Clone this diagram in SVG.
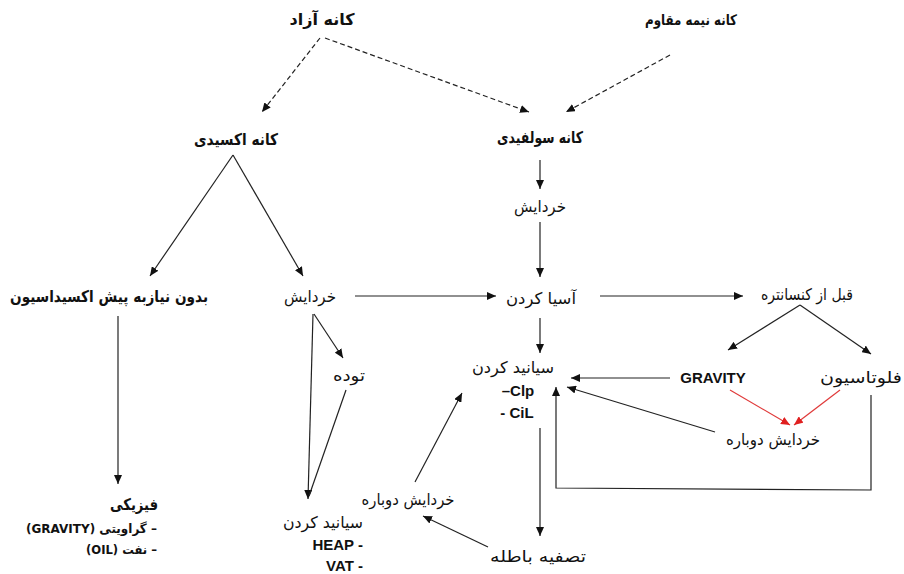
<svg xmlns="http://www.w3.org/2000/svg" width="904" height="574" viewBox="0 0 904 574">
<style>
text{font-family:"DejaVu Sans","Noto Sans",sans-serif;font-size:16px;fill:#111}
.fa{direction:rtl}
.b{font-weight:bold}
.en{font-family:"Liberation Sans",Arial,sans-serif;font-weight:bold;font-size:15px;direction:ltr}
.c line,.c polyline,.c path{stroke:#222;stroke-width:1.2;fill:none;marker-end:url(#ah)}
.c .d{stroke-dasharray:5 3}
.c .r{stroke:#e03a3a;marker-end:url(#ar)}
.c .n{marker-end:none}
</style>
<defs>
<marker id="ah" markerUnits="userSpaceOnUse" markerWidth="10" markerHeight="8" refX="9" refY="4" orient="auto"><path d="M0,0 L9,4 L0,8 Z" fill="#111"/></marker>
<marker id="ar" markerUnits="userSpaceOnUse" markerWidth="10" markerHeight="8" refX="9" refY="4" orient="auto"><path d="M0,0 L9,4 L0,8 Z" fill="#e02020"/></marker>
</defs>
<rect width="904" height="574" fill="#fff"/>
<g class="c" id="connectors">
<line class="d" x1="320" y1="38" x2="262" y2="112"/>
<line class="d" x1="325" y1="38" x2="529" y2="112"/>
<line class="d" x1="670" y1="55" x2="566" y2="112"/>
<line x1="540" y1="160" x2="540" y2="189"/>
<line x1="540" y1="222" x2="540" y2="277"/>
<line x1="233" y1="155" x2="150" y2="276"/>
<line x1="233" y1="155" x2="303" y2="276"/>
<line x1="355" y1="296" x2="496" y2="296"/>
<line x1="600" y1="296" x2="743" y2="296"/>
<line x1="540" y1="318" x2="540" y2="353"/>
<line x1="800" y1="305" x2="728" y2="350"/>
<line x1="800" y1="305" x2="871" y2="354"/>
<line x1="670" y1="378" x2="571" y2="378"/>
<line x1="715" y1="432" x2="567" y2="387"/>
<polyline points="871,395 871,490 556,488 556,387"/>
<line class="r" x1="730" y1="390" x2="790" y2="425"/>
<line class="r" x1="840" y1="390" x2="794" y2="425"/>
<line x1="540" y1="428" x2="540" y2="536"/>
<line x1="488" y1="547" x2="423" y2="516"/>
<line x1="415" y1="482" x2="462" y2="393"/>
<line x1="314" y1="314" x2="343" y2="358"/>
<line x1="313" y1="314" x2="308" y2="499"/>
<line class="n" x1="346" y1="390" x2="309" y2="496"/>
<line x1="118" y1="316" x2="118" y2="484"/>
</g>
<g id="n-azad"><text class="fa b" x="322" y="25" text-anchor="middle" textLength="65" lengthAdjust="spacingAndGlyphs">کانه آزاد</text></g>
<g id="n-nime"><text class="fa b" x="691" y="25" text-anchor="middle" style="font-size:14.5px" textLength="92" lengthAdjust="spacingAndGlyphs">کانه نیمه مقاوم</text></g>
<g id="n-oxidi"><text class="fa b" x="236" y="145" text-anchor="middle" textLength="84" lengthAdjust="spacingAndGlyphs">کانه اکسیدی</text></g>
<g id="n-sulfidi"><text class="fa b" x="540" y="143" text-anchor="middle" textLength="86" lengthAdjust="spacingAndGlyphs">کانه سولفیدی</text></g>
<g id="n-khord1"><text class="fa" x="540" y="212" text-anchor="middle" textLength="52" lengthAdjust="spacingAndGlyphs">خردایش</text></g>
<g id="n-bedun"><text class="fa b" x="109" y="302" text-anchor="middle" textLength="198" lengthAdjust="spacingAndGlyphs">بدون نیازبه پیش اکسیداسیون</text></g>
<g id="n-khord2"><text class="fa" x="310" y="302" text-anchor="middle" textLength="52" lengthAdjust="spacingAndGlyphs">خردایش</text></g>
<g id="n-asia"><text class="fa" x="541" y="304" text-anchor="middle" textLength="70" lengthAdjust="spacingAndGlyphs">آسیا کردن</text></g>
<g id="n-qabl"><text class="fa" x="807" y="300" text-anchor="middle" textLength="92" lengthAdjust="spacingAndGlyphs">قبل از کنسانتره</text></g>
<g id="n-sianid1">
<text class="fa" x="513" y="373" text-anchor="middle" textLength="82" lengthAdjust="spacingAndGlyphs">سیانید کردن</text>
<text class="en" x="518" y="396" text-anchor="middle">–Clp</text>
<text class="en" x="517" y="418" text-anchor="middle">- CiL</text>
</g>
<g id="n-gravity"><text class="en" x="713" y="383" text-anchor="middle">GRAVITY</text></g>
<g id="n-flot"><text class="fa" x="861" y="383" text-anchor="middle" textLength="82" lengthAdjust="spacingAndGlyphs">فلوتاسیون</text></g>
<g id="n-khord3"><text class="fa" x="773" y="445" text-anchor="middle" textLength="94" lengthAdjust="spacingAndGlyphs">خردایش دوباره</text></g>
<g id="n-tude"><text class="fa" x="349" y="381" text-anchor="middle" textLength="32" lengthAdjust="spacingAndGlyphs">توده</text></g>
<g id="n-khord4"><text class="fa" x="408" y="505" text-anchor="middle" textLength="93" lengthAdjust="spacingAndGlyphs">خردایش دوباره</text></g>
<g id="n-tasfie"><text class="fa" x="538" y="562" text-anchor="middle" textLength="96" lengthAdjust="spacingAndGlyphs">تصفیه باطله</text></g>
<g id="n-fiziki">
<text class="fa b" x="158" y="510" text-anchor="start" textLength="48" lengthAdjust="spacingAndGlyphs">فیزیکی</text>
<text class="fa b" x="157" y="533" text-anchor="start" style="font-size:13px" textLength="131" lengthAdjust="spacingAndGlyphs">– گراویتی (GRAVITY)</text>
<text class="fa b" x="157" y="554" text-anchor="start" style="font-size:13px" textLength="71" lengthAdjust="spacingAndGlyphs">– نفت (OIL)</text>
</g>
<g id="n-sianid2">
<text class="fa" x="363" y="528" text-anchor="start" textLength="80" lengthAdjust="spacingAndGlyphs">سیانید کردن</text>
<text class="en" x="363" y="550" text-anchor="end">HEAP -</text>
<text class="en" x="363" y="571" text-anchor="end">VAT -</text>
</g>
</svg>
